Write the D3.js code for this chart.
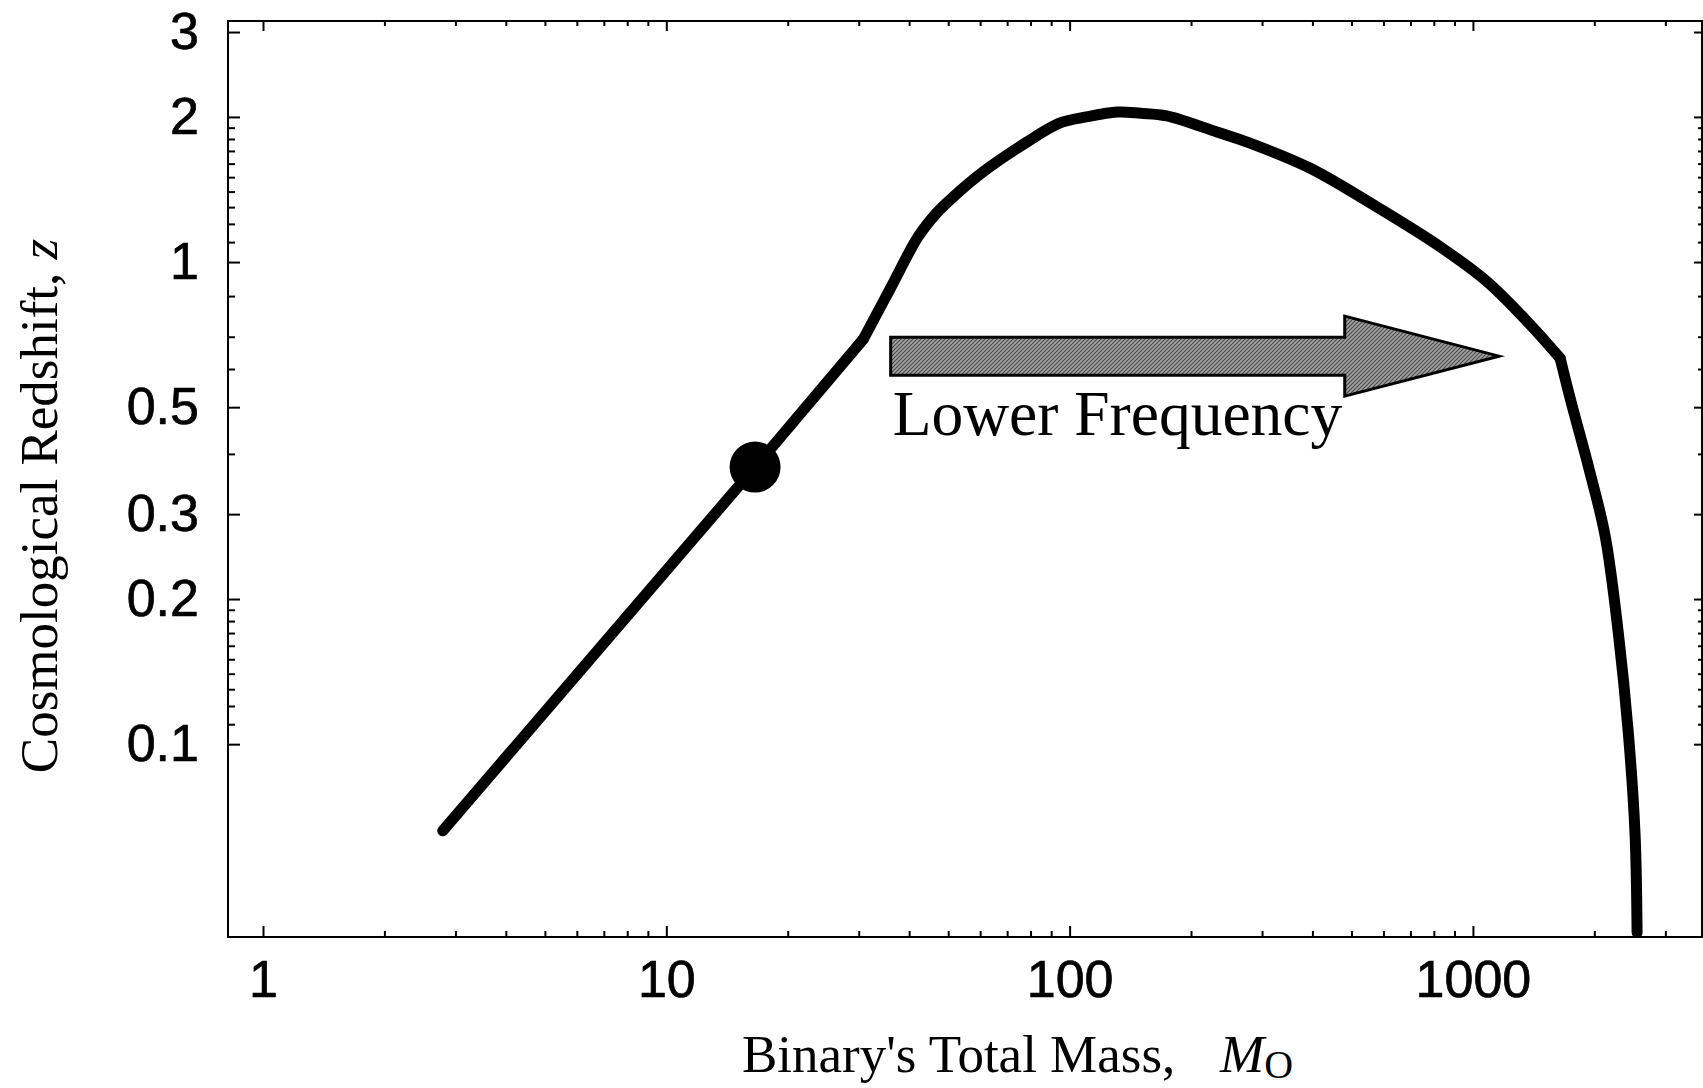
<!DOCTYPE html>
<html><head><meta charset="utf-8">
<script src="https://cdn.jsdelivr.net/npm/d3@7"></script>
<style>html,body{margin:0;padding:0;background:#fff;} svg{display:block}</style>
</head><body><svg id="chart" width="1703" height="1088"></svg>
<script>
// ---- data ----
const massValues = [2.79, 16.6, 30.8, 36.0, 42.1, 46.8, 51.4, 61.0, 78.4, 94.7, 110, 131, 150, 174, 232, 280, 394, 577, 829, 1082, 1380, 1645, 1752, 1941, 2127, 2294, 2429, 2523, 2553];
const redshiftValues = [0.0661, 0.3756, 0.692, 0.884, 1.128, 1.264, 1.364, 1.538, 1.774, 1.943, 2.0, 2.047, 2.035, 2.01, 1.861, 1.765, 1.567, 1.302, 1.076, 0.912, 0.745, 0.632, 0.512, 0.372, 0.2705, 0.1697, 0.1052, 0.0653, 0.0407];
const kinkMass = [30.8, 1645];          // where the plotted curve bends sharply
const markerMass = [16.6];
const markerRedshift = [0.3756];
const xTickMajor = [1, 10, 100, 1000];
const xTickLabels = ["1", "10", "100", "1000"];
const xTickMinor = [2,3,4,5,6,7,8,9,20,30,40,50,60,70,80,90,200,300,400,500,600,700,800,900,2000,3000];
const yTickMajor = [3, 2, 1, 0.5, 0.3, 0.2, 0.1];
const yTickLabels = ["3", "2", "1", "0.5", "0.3", "0.2", "0.1"];
const yTickMinor = [1.1,1.2,1.3,1.4,1.5,1.6,1.7,1.8,1.9,0.85,0.7,0.6,0.4,0.11,0.12,0.13,0.14,0.15,0.16,0.17,0.18,0.19];
const arrowMass = [36, 481, 1161];   // tail, head base, tip
const arrowRedshift = 0.638;
const arrowText = "Lower Frequency";
const xTitle = "Binary's Total Mass,";
const yTitle = "Cosmological Redshift, ";

// ---- layout ----
const L = 228, R = 1702, T = 21, B = 937;
const svg = d3.select("#chart");
const x = d3.scaleLog().domain([Math.pow(10, -0.0868), Math.pow(10, 3.568)]).range([L, R]);
const y = d3.scaleLog().domain([Math.pow(10, -1.4), Math.pow(10, 0.5)]).range([B, T]);

const serif = "'Liberation Serif', 'Times New Roman', serif";
const sans = "'Liberation Sans', Arial, Helvetica, sans-serif";

// pattern for arrow
const defs = svg.append("defs");
const pat = defs.append("pattern").attr("id", "stip").attr("width", 4).attr("height", 4)
  .attr("patternUnits", "userSpaceOnUse");
pat.append("rect").attr("width", 4).attr("height", 4).attr("fill", "#a4a4a4");
pat.append("path").attr("d", "M0,4 L4,0 M-1,1 L1,-1 M3,5 L5,3").attr("stroke", "#4a4a4a").attr("stroke-width", 1.2);

function styleAxis(g) {
  g.select(".domain").remove();
  g.selectAll(".tick line").attr("stroke", "#000").attr("stroke-width", 2);
  g.selectAll(".tick text").attr("fill", "#000").attr("font-family", sans).attr("font-size", 52)
    .attr("stroke", "#000").attr("stroke-width", 0.7);
}

// bottom axis
svg.append("g").attr("transform", `translate(0,${B})`)
  .call(d3.axisBottom(x).tickValues(xTickMajor).tickSize(-11).tickPadding(23)
    .tickFormat((d, i) => xTickLabels[i]))
  .call(styleAxis);
svg.append("g").attr("transform", `translate(0,${B})`)
  .call(d3.axisBottom(x).tickValues(xTickMinor).tickSize(-6).tickFormat(""))
  .call(styleAxis);
// top axis
svg.append("g").attr("transform", `translate(0,${T})`)
  .call(d3.axisTop(x).tickValues(xTickMajor).tickSize(-10).tickFormat(""))
  .call(styleAxis);
svg.append("g").attr("transform", `translate(0,${T})`)
  .call(d3.axisTop(x).tickValues(xTickMinor).tickSize(-5).tickFormat(""))
  .call(styleAxis);
// left axis
svg.append("g").attr("transform", `translate(${L},0)`)
  .call(d3.axisLeft(y).tickValues(yTickMajor).tickSize(-12).tickPadding(29)
    .tickFormat((d, i) => yTickLabels[i]))
  .call(styleAxis);
svg.append("g").attr("transform", `translate(${L},0)`)
  .call(d3.axisLeft(y).tickValues(yTickMinor).tickSize(-7).tickFormat(""))
  .call(styleAxis);
// right axis
svg.append("g").attr("transform", `translate(${R},0)`)
  .call(d3.axisRight(y).tickValues(yTickMajor).tickSize(-8).tickFormat(""))
  .call(styleAxis);
svg.append("g").attr("transform", `translate(${R},0)`)
  .call(d3.axisRight(y).tickValues(yTickMinor).tickSize(-4).tickFormat(""))
  .call(styleAxis);

// frame
svg.append("rect").attr("x", L).attr("y", T).attr("width", R - L).attr("height", B - T)
  .attr("fill", "none").attr("stroke", "#000").attr("stroke-width", 2);

// arrow
const ay = y(arrowRedshift);
const shaftH = 19, headH = 40;
const ax0 = x(arrowMass[0]), ax1 = x(arrowMass[1]), ax2 = x(arrowMass[2]);
const arrowPts = [[ax0, ay - shaftH], [ax1, ay - shaftH], [ax1, ay - headH], [ax2, ay],
  [ax1, ay + headH], [ax1, ay + shaftH], [ax0, ay + shaftH]];
svg.append("path").attr("d", d3.line()(arrowPts) + "Z")
  .attr("fill", "url(#stip)").attr("stroke", "#000").attr("stroke-width", 3).attr("stroke-linejoin", "miter");
svg.append("text").attr("x", ax0 + 2).attr("y", ay + 79)
  .attr("font-family", serif).attr("font-size", 63.5).attr("fill", "#000").text(arrowText);

// curve: straight piece up to first kink, smooth arcs between kinks
const pts = massValues.map((m, i) => [m, redshiftValues[i]]);
const k0 = massValues.indexOf(kinkMass[0]), k1 = massValues.indexOf(kinkMass[1]);
const pieces = [
  { d: pts.slice(0, k0 + 1), c: d3.curveLinear },
  { d: pts.slice(k0, k1 + 1), c: d3.curveCatmullRom.alpha(0.5) },
  { d: pts.slice(k1), c: d3.curveCatmullRom.alpha(0.5) }
];
svg.selectAll("path.curve").data(pieces).enter().append("path").attr("class", "curve")
  .attr("d", p => d3.line().x(d => x(d[0])).y(d => y(d[1])).curve(p.c)(p.d))
  .attr("fill", "none").attr("stroke", "#000").attr("stroke-width", 11)
  .attr("stroke-linecap", "round").attr("stroke-linejoin", "round");

// marker
svg.selectAll("circle.mark").data(markerMass).enter().append("circle")
  .attr("class", "mark").attr("cx", d => x(d)).attr("cy", (d, i) => y(markerRedshift[i]))
  .attr("r", 25.5).attr("fill", "#000");

// axis titles
const xt = svg.append("text").attr("x", 742).attr("y", 1072)
  .attr("font-family", serif).attr("font-size", 53).attr("fill", "#000");
xt.append("tspan").text(xTitle);
xt.append("tspan").attr("x", 1220).attr("font-style", "italic").text("M");
xt.append("tspan").attr("dy", 6).attr("font-size", 40).text("O");

const yt = svg.append("text").attr("transform", "translate(57,506) rotate(-90)")
  .attr("text-anchor", "middle").attr("font-family", serif).attr("font-size", 53).attr("fill", "#000");
yt.append("tspan").text(yTitle);
yt.append("tspan").attr("font-style", "italic").text("z");
</script></body></html>
